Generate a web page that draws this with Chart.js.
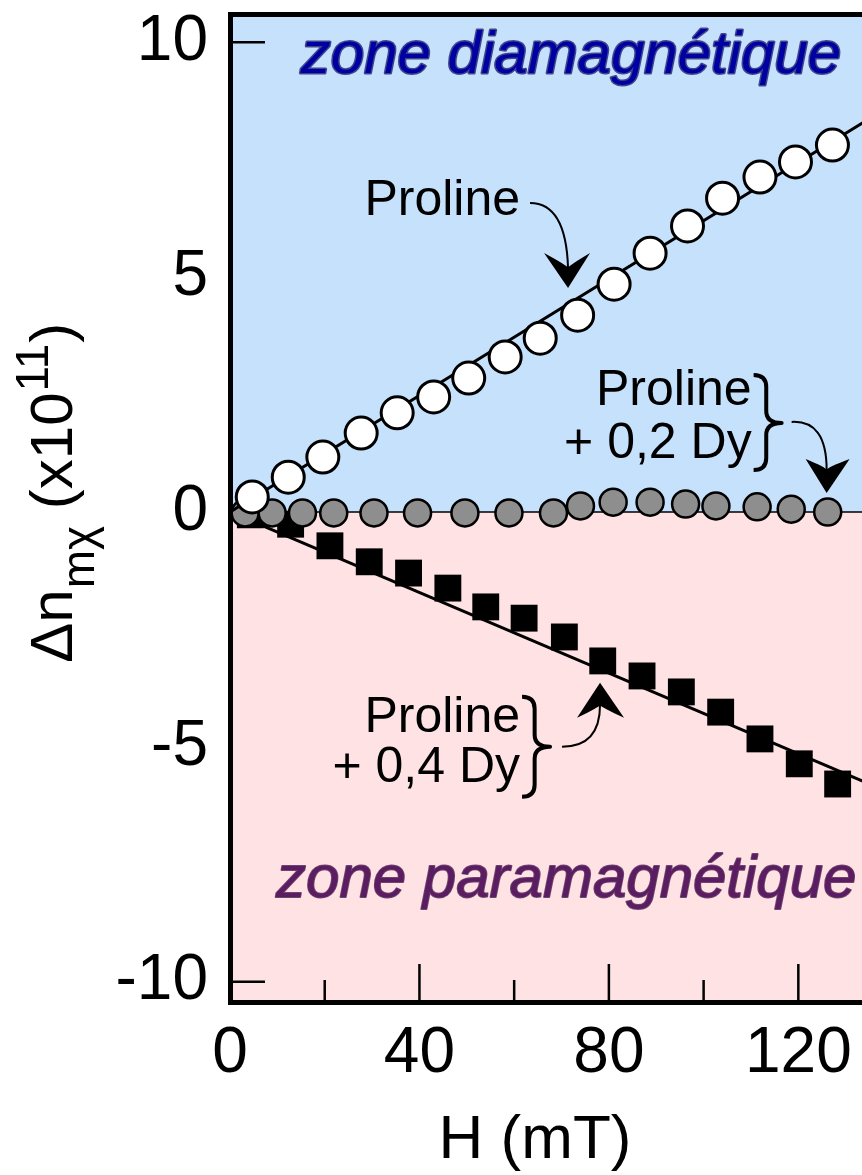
<!DOCTYPE html>
<html><head><meta charset="utf-8">
<script src="https://cdn.jsdelivr.net/npm/chart.js@4/dist/chart.umd.min.js"></script>
<style>
html,body{margin:0;padding:0;background:#fff;overflow:hidden;width:862px;height:1175px}
#wrap{position:absolute;left:0;top:0;width:912px;height:1175px}
</style>
</head><body><div id="wrap"><canvas id="c" width="912" height="1175"></canvas></div>
<script>
// ---- data ----
const xTickValues = [0, 40, 80, 120];
const xMinorTicks = [20, 60, 100];
const yTickValues = [-10, -5, 0, 5, 10];
const yMarkedTicks = [-10, 10];

const prolineH = [4.7, 12.3, 19.6, 27.7, 35.3, 43.0, 50.4, 58.1, 65.5, 73.4, 81.1, 88.7, 96.6, 104.0, 111.9, 119.4, 127.2];
const prolineN = [0.32, 0.74, 1.17, 1.68, 2.11, 2.45, 2.85, 3.30, 3.70, 4.19, 4.85, 5.51, 6.09, 6.68, 7.13, 7.45, 7.81];

const dy02H = [3.2, 8.9, 15.3, 21.9, 30.4, 39.6, 49.6, 58.9, 68.3, 74.0, 80.9, 88.7, 96.2, 102.6, 111.3, 118.5, 126.2];
const dy02N = [-0.02, -0.02, -0.02, -0.02, -0.02, -0.02, -0.02, -0.02, -0.02, 0.13, 0.21, 0.21, 0.17, 0.13, 0.11, 0.06, 0.0];

const dy04H = [4.3, 12.8, 21.1, 29.4, 37.7, 46.0, 54.0, 62.1, 70.6, 78.7, 87.0, 95.3, 103.6, 111.9, 120.2, 128.3];
const dy04N = [-0.06, -0.26, -0.72, -1.06, -1.30, -1.62, -2.02, -2.26, -2.66, -3.17, -3.49, -3.83, -4.26, -4.83, -5.36, -5.79];

const fitH = [0, 145];
const prolineFit = [0, 8.99];
const dy02Fit = [0, 0];
const dy04Fit = [0, -6.22];

const FONT = "'Liberation Sans', Arial, Helvetica, sans-serif";
const pts = (xs, ys) => xs.map((x, i) => ({x: x, y: ys[i]}));

// ---- plugins ----
const bgPlugin = {
  id: 'bg',
  beforeDraw(chart) {
    const {ctx, chartArea: a, scales: {y}} = chart;
    const y0 = y.getPixelForValue(0);
    ctx.save();
    ctx.fillStyle = '#C6E1FC';
    ctx.fillRect(a.left, a.top, a.right - a.left + 10, y0 - a.top);
    ctx.fillStyle = '#FEE2E4';
    ctx.fillRect(a.left, y0, a.right - a.left + 10, a.bottom - y0);
    ctx.restore();
  }
};

function brace(ctx, x, yTop, yTip, yBot, w) {
  const r = 12;
  const xm = x + w * 0.45;
  ctx.beginPath();
  ctx.moveTo(x, yTop);
  ctx.quadraticCurveTo(xm, yTop, xm, yTop + r);
  ctx.lineTo(xm, yTip - r);
  ctx.quadraticCurveTo(xm, yTip, x + w, yTip);
  ctx.quadraticCurveTo(xm, yTip, xm, yTip + r);
  ctx.lineTo(xm, yBot - r);
  ctx.quadraticCurveTo(xm, yBot, x, yBot);
  ctx.stroke();
}

function arrow(ctx, o, s, c, n, t, b1, b2) {
  ctx.beginPath();
  ctx.moveTo(o[0] + s[0], o[1] + s[1]);
  ctx.quadraticCurveTo(o[0] + c[0], o[1] + c[1], o[0] + n[0], o[1] + n[1]);
  ctx.stroke();
  ctx.beginPath();
  ctx.moveTo(o[0] + t[0], o[1] + t[1]);
  ctx.lineTo(o[0] + b1[0], o[1] + b1[1]);
  ctx.quadraticCurveTo(o[0] + n[0], o[1] + n[1] - (t[1] - n[1]) * 0.1, o[0] + n[0], o[1] + n[1]);
  ctx.quadraticCurveTo(o[0] + n[0], o[1] + n[1] - (t[1] - n[1]) * 0.1, o[0] + b2[0], o[1] + b2[1]);
  ctx.closePath();
  ctx.fill();
}

const decoPlugin = {
  id: 'deco',
  afterDraw(chart) {
    const {ctx, chartArea: a, scales: {x, y}} = chart;
    const P = (xv, yv) => [x.getPixelForValue(xv), y.getPixelForValue(yv)];
    ctx.save();
    // inside tick marks
    ctx.strokeStyle = '#000';
    ctx.lineWidth = 2.5;
    ctx.beginPath();
    xTickValues.forEach(v => { if (v > 0) { const px = x.getPixelForValue(v); ctx.moveTo(px, a.bottom); ctx.lineTo(px, a.bottom - 38); } });
    xMinorTicks.forEach(v => { const px = x.getPixelForValue(v); ctx.moveTo(px, a.bottom); ctx.lineTo(px, a.bottom - 22); });
    yMarkedTicks.forEach(v => { const py = y.getPixelForValue(v); ctx.moveTo(a.left, py); ctx.lineTo(a.left + 35, py); });
    ctx.stroke();

    // zone labels
    ctx.font = 'italic 60px ' + FONT;
    ctx.textAlign = 'center';
    ctx.textBaseline = 'alphabetic';
    ctx.lineJoin = 'round';
    let p = P(72.0, 9.34);
    ctx.lineWidth = 3; ctx.strokeStyle = 'rgba(30,30,110,0.8)';
    ctx.strokeText('zone diamagnétique', p[0], p[1]);
    ctx.fillStyle = '#0000A2';
    ctx.fillText('zone diamagnétique', p[0], p[1]);
    p = P(71.0, -8.19);
    ctx.lineWidth = 1.8; ctx.strokeStyle = 'rgba(70,30,80,0.8)';
    ctx.strokeText('zone paramagnétique', p[0], p[1]);
    ctx.fillStyle = '#5B1C62';
    ctx.fillText('zone paramagnétique', p[0], p[1]);

    // annotations
    ctx.fillStyle = '#000';
    ctx.strokeStyle = '#000';
    ctx.font = '50px ' + FONT;
    ctx.textAlign = 'right';
    // Proline
    let o = P(61.24, 6.32);
    ctx.fillText('Proline', o[0], o[1]);
    ctx.lineWidth = 2;
    arrow(ctx, o, [10, -12], [46, -12], [48, 53], [48, 73], [24, 38], [70, 38]);
    // Proline + 0,2 Dy
    o = P(110.14, 2.28);
    ctx.fillText('Proline', o[0], o[1]);
    ctx.fillText('+ 0,2 Dy', o[0], o[1] + 53);
    ctx.lineWidth = 4;
    brace(ctx, o[0] + 2, o[1] - 30, o[1] + 18, o[1] + 65, 28);
    ctx.lineWidth = 2;
    arrow(ctx, o, [40, 17], [75, 15], [75, 65], [75, 88], [54, 54], [98, 54]);
    // Proline + 0,4 Dy
    o = P(61.24, -4.68);
    ctx.fillText('Proline', o[0], o[1]);
    ctx.fillText('+ 0,4 Dy', o[0], o[1] + 50);
    ctx.lineWidth = 4;
    brace(ctx, o[0] + 2, o[1] - 35, o[1] + 15, o[1] + 65, 28);
    ctx.lineWidth = 2;
    arrow(ctx, o, [42, 15], [80, 15], [80, -27], [80, -49], [57, -14], [104, -14]);

    // x axis title
    ctx.font = '62px ' + FONT;
    ctx.textAlign = 'center';
    ctx.fillText('H (mT)', x.getPixelForValue(64.4), a.bottom + 156);

    // y axis title (rotated, with sub/superscripts)
    ctx.translate(a.left - 158, y.getPixelForValue(-3.21));
    ctx.rotate(-Math.PI / 2);
    ctx.textAlign = 'left';
    let cx = 0;
    const main = '60px ' + FONT, small = '46px ' + FONT;
    ctx.font = main; ctx.fillText('Δn', cx, 0); cx += ctx.measureText('Δn').width;
    ctx.font = small; ctx.fillText('mχ', cx + 1, 22); cx += ctx.measureText('mχ').width + 1;
    ctx.font = main; ctx.fillText(' (x10', cx, 0); cx += ctx.measureText(' (x10').width;
    ctx.font = small; ctx.fillText('11', cx + 1, -24); cx += ctx.measureText('11').width + 2;
    ctx.font = main; ctx.fillText(')', cx, 0);
    ctx.restore();
  }
};

const noPad = s => { s.paddingTop = 0; s.paddingBottom = 0; s.paddingLeft = 0; s.paddingRight = 0; };

// ---- chart ----
new Chart(document.getElementById('c'), {
  type: 'scatter',
  data: {
    datasets: [
      { label: 'Proline', data: pts(prolineH, prolineN), order: 0,
        pointStyle: 'circle', pointRadius: 16, pointBackgroundColor: '#ffffff',
        pointBorderColor: '#000', pointBorderWidth: 3, showLine: false },
      { label: 'Proline fit', data: pts(fitH, prolineFit), order: 1, showLine: true,
        borderColor: '#000', borderWidth: 3, pointRadius: 0 },
      { label: 'Proline + 0,2 Dy', data: pts(dy02H, dy02N), order: 2,
        pointStyle: 'circle', pointRadius: 13.5, pointBackgroundColor: '#8E8E8E',
        pointBorderColor: '#000', pointBorderWidth: 2.5, showLine: false },
      { label: 'Proline + 0,2 Dy fit', data: pts(fitH, dy02Fit), order: 3, showLine: true,
        borderColor: '#000', borderWidth: 1.5, pointRadius: 0 },
      { label: 'Proline + 0,4 Dy', data: pts(dy04H, dy04N), order: 4,
        pointStyle: 'rect', pointRadius: 19, pointBackgroundColor: '#000',
        pointBorderColor: '#000', pointBorderWidth: 0, showLine: false },
      { label: 'Proline + 0,4 Dy fit', data: pts(fitH, dy04Fit), order: 5, showLine: true,
        borderColor: '#000', borderWidth: 3, pointRadius: 0 }
    ]
  },
  options: {
    responsive: false,
    animation: false,
    devicePixelRatio: 1,
    layout: { padding: 0, autoPadding: false },
    plugins: { legend: { display: false }, tooltip: { enabled: false } },
    scales: {
      x: {
        type: 'linear', position: 'bottom', min: 0, max: 144, z: 1,
        afterFit: s => { s.height = 173; noPad(s); },
        afterBuildTicks: s => { s.ticks = xTickValues.map(v => ({value: v})); },
        grid: { display: false, drawTicks: false },
        border: { display: true, color: '#000', width: 5 },
        ticks: { font: { size: 64, family: FONT }, color: '#000', padding: 14, maxRotation: 0 }
      },
      x2: {
        type: 'linear', position: 'top', min: 0, max: 144, z: 1,
        afterFit: s => { s.height = 14; noPad(s); },
        grid: { display: false, drawTicks: false },
        border: { display: true, color: '#000', width: 5 },
        ticks: { display: false }
      },
      y: {
        type: 'linear', position: 'left', min: -10.43, max: 10.6, z: 1,
        afterFit: s => { s.width = 230; noPad(s); },
        afterBuildTicks: s => { s.ticks = yTickValues.map(v => ({value: v})); },
        grid: { display: false, drawTicks: false },
        border: { display: true, color: '#000', width: 5 },
        ticks: { font: { size: 64, family: FONT }, color: '#000', padding: 22 }
      }
    }
  },
  plugins: [bgPlugin, decoPlugin]
});
</script></body></html>
